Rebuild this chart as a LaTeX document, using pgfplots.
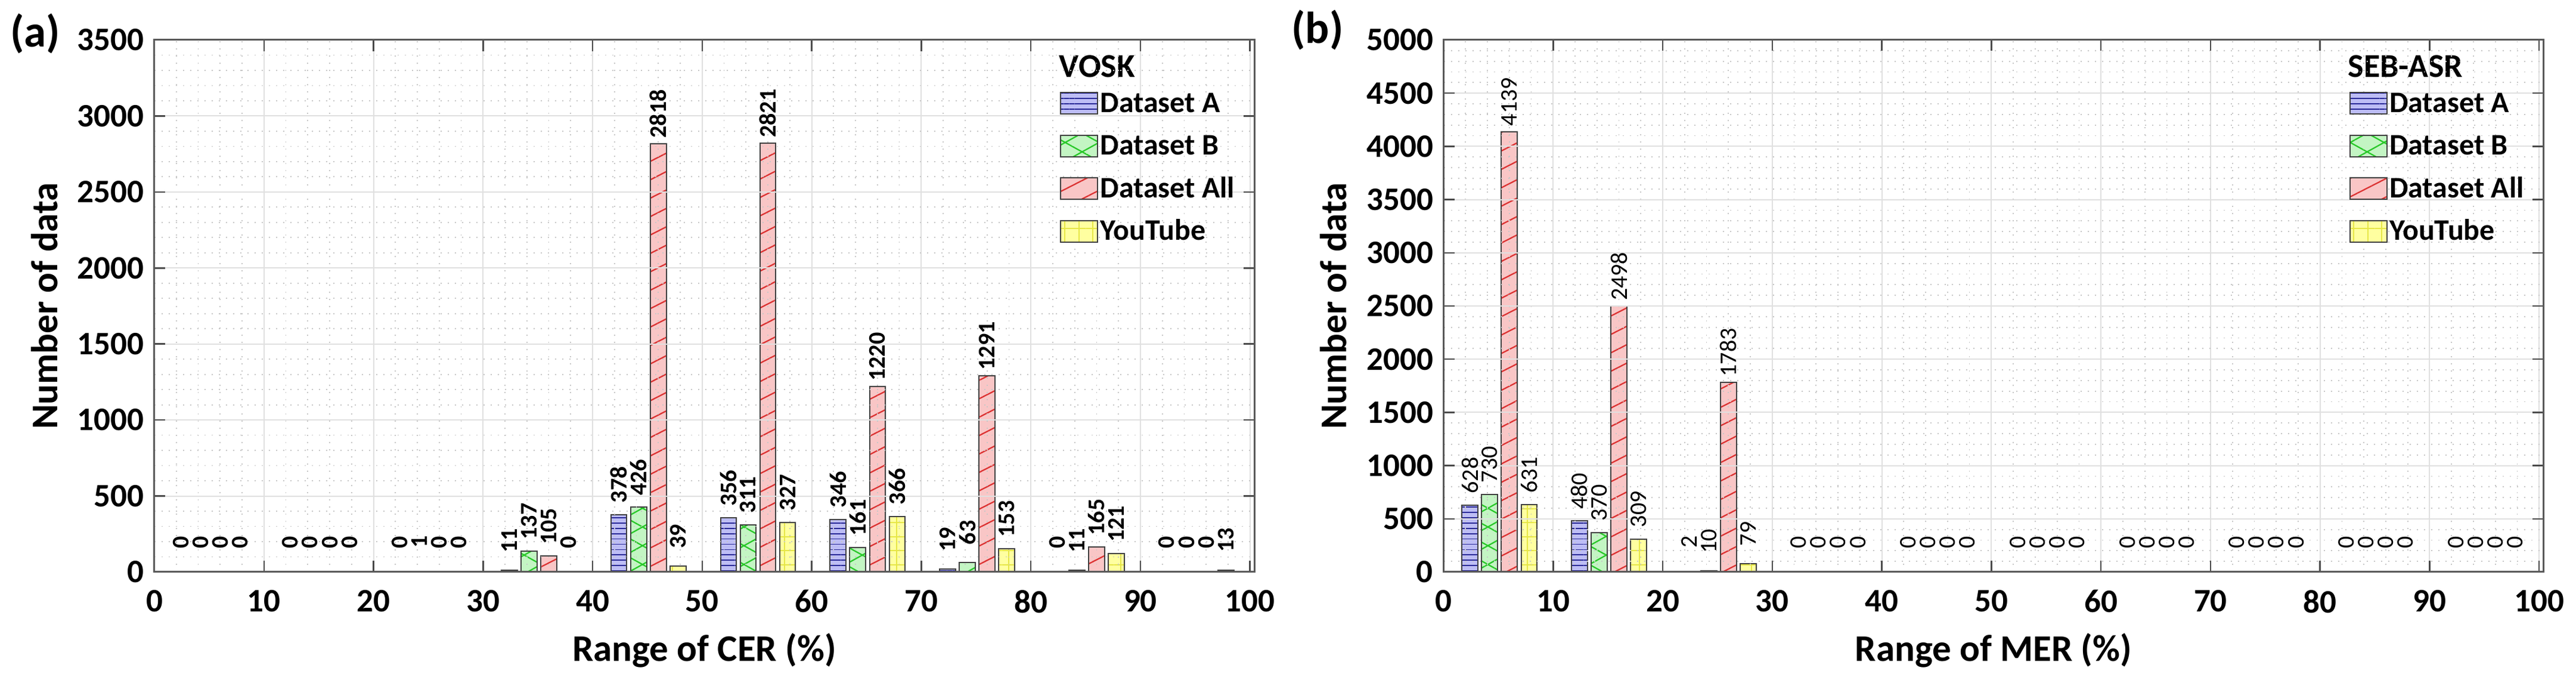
\documentclass[border=0pt]{standalone}
\usepackage{fontspec}
\setmainfont{Carlito}
\usepackage{pgfplots}
\usepackage{pgfplotstable}
\pgfplotsset{compat=1.18}
\usetikzlibrary{patterns.meta}

\definecolor{fillA}{RGB}{189,189,245}
\definecolor{lineA}{RGB}{40,40,150}
\definecolor{fillB}{RGB}{195,245,195}
\definecolor{lineB}{RGB}{40,200,40}
\definecolor{fillC}{RGB}{249,198,198}
\definecolor{lineC}{RGB}{220,50,50}
\definecolor{fillD}{RGB}{255,255,160}
\definecolor{lineD}{RGB}{230,230,70}

% bar positions: bin centre -2.6, -0.8, +1.0, +2.8
\pgfplotstableread{
xA xB xC xD A B All YT
2.4 4.2 6.0 7.8 0 0 0 0
12.4 14.2 16.0 17.8 0 0 0 0
22.4 24.2 26.0 27.8 0 1 0 0
32.4 34.2 36.0 37.8 11 137 105 0
42.4 44.2 46.0 47.8 378 426 2818 39
52.4 54.2 56.0 57.8 356 311 2821 327
62.4 64.2 66.0 67.8 346 161 1220 366
72.4 74.2 76.0 77.8 19 63 1291 153
82.4 84.2 86.0 87.8 0 11 165 121
92.4 94.2 96.0 97.8 0 0 0 13
}\vosk

\pgfplotstableread{
xA xB xC xD A B All YT
2.4 4.2 6.0 7.8 628 730 4139 631
12.4 14.2 16.0 17.8 480 370 2498 309
22.4 24.2 26.0 27.8 2 10 1783 79
32.4 34.2 36.0 37.8 0 0 0 0
42.4 44.2 46.0 47.8 0 0 0 0
52.4 54.2 56.0 57.8 0 0 0 0
62.4 64.2 66.0 67.8 0 0 0 0
72.4 74.2 76.0 77.8 0 0 0 0
82.4 84.2 86.0 87.8 0 0 0 0
92.4 94.2 96.0 97.8 0 0 0 0
}\seb

\pgfplotsset{
 /pgf/number format/1000 sep={},
 /pgf/number format/assume math mode=true,
 myleg/.style={legend image code/.code={\draw[##1] (0pt,-3.6pt) rectangle (12.4pt,3.6pt);}},
 serA/.style={ybar, bar width=1.45, bar shift=0, draw=black!75, line width=0.4pt, fill=fillA,
   postaction={pattern={Lines[angle=0,distance=1.78pt,line width=0.35pt]}, pattern color=lineA}, myleg},
 serB/.style={ybar, bar width=1.45, bar shift=0, draw=black!75, line width=0.4pt, fill=fillB,
   postaction={pattern={Lines[angle=29,distance=5.5pt,line width=0.45pt]}, pattern color=lineB},
   postaction={pattern={Lines[angle=-29,distance=5.5pt,line width=0.45pt]}, pattern color=lineB}, myleg},
 serC/.style={ybar, bar width=1.45, bar shift=0, draw=black!75, line width=0.4pt, fill=fillC,
   postaction={pattern={Lines[angle=27,distance=5.5pt,line width=0.45pt]}, pattern color=lineC}, myleg},
 serD/.style={ybar, bar width=1.45, bar shift=0, draw=black!75, line width=0.4pt, fill=fillD,
   postaction={pattern={Hatch[angle=0,distance=4.7pt,line width=0.4pt]}, pattern color=lineD}, myleg},
 panel/.style={
   scale only axis, width=369pt, height=178.4pt,
   xmin=0, xmax=100.4, ymin=0,
   xtick={0,10,...,100},
   minor x tick num=4, minor y tick num=4,
   grid=both,
   major grid style={solid, draw=black!12, line width=0.4pt},
   minor grid style={dotted, draw=black!22, line width=0.35pt},
   minor tick length=0pt, major tick length=3.7pt,
   tick style={draw=black!70, line width=0.5pt},
   axis line style={draw=black!65, line width=0.6pt},
   axis on top,
   clip=false,
   tick label style={font=\fontsize{11}{13}\selectfont\bfseries},
   xticklabel style={yshift=-2.5pt},
   xlabel style={at={(axis description cs:0.5,-0.1143)}, anchor=north, inner sep=0pt, font=\fontsize{12.6}{15}\selectfont\bfseries},
   ylabel style={at={(axis description cs:-0.1,0.5)}, anchor=center, inner sep=0pt, font=\fontsize{12.6}{15}\selectfont\bfseries},
   ylabel={Number of data},
   nodes near coords,
   legend cell align=left,
   legend style={font=\fontsize{10}{12}\selectfont\bfseries, draw=none, fill=none,
     at={(0.8228,0.9114)}, anchor=north west, inner xsep=0pt, inner ysep=0pt,
     row sep=3.9pt, column sep=0pt,
     nodes={inner sep=0.7pt, text height=7.5pt, text depth=1.5pt}},
 },
}

\begin{document}
\begin{tikzpicture}
\path[use as bounding box] (-51.8pt,-35.2pt) rectangle (812.4pt,191.8pt);

\begin{axis}[panel, at={(0pt,0pt)}, anchor=south west,
  ymax=3500, ytick={0,500,...,3500},
  xlabel={Range of CER (\%)},
  every node near coord/.append style={font=\fontsize{8}{9}\selectfont\bfseries, yshift=10pt, rotate=90, anchor=center, inner sep=0pt},
]
\addplot[serA] table[x=xA,y=A]{\vosk};
\addplot[serB] table[x=xB,y=B]{\vosk};
\addplot[serC] table[x=xC,y=All]{\vosk};
\addplot[serD] table[x=xD,y=YT]{\vosk};
\legend{Dataset A, Dataset B, Dataset All, YouTube}
\node[anchor=base west, inner sep=0pt, font=\fontsize{11.2}{13}\selectfont\bfseries] at (rel axis cs:0.8222,0.9294) {VOSK};
\end{axis}
\node[font=\fontsize{15}{17}\selectfont\bfseries, inner sep=0pt] at (-40pt,180.6pt) {(a)};

\begin{axis}[panel, at={(432.5pt,0pt)}, anchor=south west,
  ymax=5000, ytick={0,500,...,5000},
  xlabel={Range of MER (\%)},
  every node near coord/.append style={font=\fontsize{8}{9}\selectfont, yshift=10pt, rotate=90, anchor=center, inner sep=0pt},
]
\addplot[serA] table[x=xA,y=A]{\seb};
\addplot[serB] table[x=xB,y=B]{\seb};
\addplot[serC] table[x=xC,y=All]{\seb};
\addplot[serD] table[x=xD,y=YT]{\seb};
\legend{Dataset A, Dataset B, Dataset All, YouTube}
\node[anchor=base west, inner sep=0pt, font=\fontsize{11.2}{13}\selectfont\bfseries] at (rel axis cs:0.8217,0.9294) {SEB-ASR};
\end{axis}
\node[font=\fontsize{15}{17}\selectfont\bfseries, inner sep=0pt] at (390.2pt,181.8pt) {(b)};
\end{tikzpicture}
\end{document}
